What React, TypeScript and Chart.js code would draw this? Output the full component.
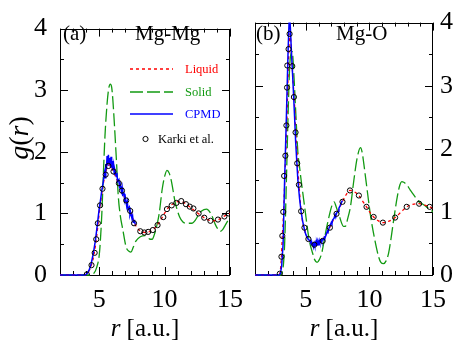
import React, { useEffect, useRef } from 'react';
import { Chart, registerables } from 'chart.js';

Chart.register(...registerables);

const SERIF = "'Liberation Serif', 'Times New Roman', serif";
const RED = '#ff0000';
const GREEN = '#129a12';
const BLUE = '#0000ff';

// ---------- Panel (a): Mg-Mg ----------
const mgMgLiquidR = [2.0, 3.8, 4.0, 4.2, 4.4, 4.6, 4.8, 5.0, 5.2, 5.4, 5.6, 5.8, 6.0, 6.2, 6.4, 6.6, 6.8, 7.0, 7.2, 7.4, 7.6, 7.8, 8.0, 8.3, 8.6, 8.9, 9.2, 9.5, 9.8, 10.1, 10.4, 10.7, 11.0, 11.3, 11.6, 11.9, 12.2, 12.5, 12.8, 13.1, 13.4, 13.7, 14.0, 14.3, 14.6, 15.0];
const mgMgLiquidG = [0, 0, 0.01, 0.06, 0.16, 0.33, 0.62, 1.0, 1.33, 1.58, 1.74, 1.79, 1.72, 1.62, 1.52, 1.42, 1.33, 1.22, 1.12, 1.02, 0.9, 0.8, 0.74, 0.7, 0.69, 0.71, 0.75, 0.83, 0.93, 1.04, 1.12, 1.16, 1.19, 1.19, 1.16, 1.11, 1.06, 1.01, 0.96, 0.92, 0.89, 0.88, 0.89, 0.92, 0.96, 1.0];

const mgMgSolidR = [2.0, 4.3, 4.6, 4.8, 5.0, 5.1, 5.2, 5.3, 5.44, 5.6, 5.72, 5.85, 5.95, 6.04, 6.2, 6.33, 6.45, 6.6, 6.8, 7.06, 7.3, 7.42, 7.6, 7.8, 8.14, 8.5, 8.75, 8.9, 9.05, 9.22, 9.4, 9.58, 9.82, 10.0, 10.18, 10.36, 10.54, 10.79, 11.15, 11.4, 11.63, 12.1, 12.35, 12.6, 12.83, 13.2, 13.55, 13.9, 14.1, 14.28, 14.45, 14.64, 15.0];
const mgMgSolidG = [0, 0, 0.03, 0.12, 0.32, 0.6, 1.0, 1.55, 2.26, 2.78, 3.02, 3.1, 3.05, 2.85, 2.3, 1.8, 1.3, 0.98, 0.74, 0.45, 0.38, 0.37, 0.45, 0.55, 0.62, 0.64, 0.6, 0.58, 0.58, 0.66, 0.8, 0.99, 1.4, 1.6, 1.7, 1.65, 1.5, 1.2, 0.94, 0.86, 0.84, 0.84, 0.89, 0.98, 1.04, 1.07, 0.99, 0.81, 0.74, 0.71, 0.74, 0.81, 0.94];

const mgMgCpmdR = [2.0, 3.9, 4.0, 4.1, 4.2, 4.3, 4.4, 4.5, 4.6, 4.7, 4.8, 4.9, 5.0, 5.1, 5.2, 5.3, 5.4, 5.45, 5.5, 5.55, 5.6, 5.65, 5.7, 5.75, 5.8, 5.85, 5.9, 5.95, 6.0, 6.05, 6.1, 6.15, 6.2, 6.3, 6.35, 6.4, 6.5, 6.55, 6.6, 6.7, 6.75, 6.8, 6.9, 6.95, 7.0, 7.1, 7.15, 7.2, 7.3, 7.35, 7.4, 7.5, 7.55, 7.6, 7.7, 7.75];
const mgMgCpmdG = [0, 0, 0.01, 0.03, 0.07, 0.12, 0.2, 0.3, 0.42, 0.55, 0.72, 0.9, 1.08, 1.22, 1.38, 1.5, 1.66, 1.58, 1.8, 1.72, 1.93, 1.78, 1.95, 1.82, 1.9, 1.76, 1.92, 1.74, 1.85, 1.7, 1.78, 1.64, 1.7, 1.6, 1.66, 1.52, 1.55, 1.44, 1.48, 1.36, 1.42, 1.3, 1.32, 1.22, 1.26, 1.12, 1.18, 1.06, 1.1, 0.98, 1.02, 0.92, 0.96, 0.86, 0.88, 0.82];

const mgMgKarkiR = [4.05, 4.41, 4.65, 4.77, 4.89, 5.06, 5.25, 5.49, 5.7, 6.09, 6.5, 6.74, 7.06, 7.37, 7.66, 8.14, 8.45, 8.74, 9.1, 9.46, 9.9, 10.18, 10.54, 10.9, 11.27, 11.63, 11.92, 12.2, 12.6, 13.03, 13.5, 14.08, 14.57, 14.9];
const mgMgKarkiG = [0.01, 0.16, 0.36, 0.58, 0.84, 1.13, 1.4, 1.63, 1.77, 1.68, 1.49, 1.37, 1.21, 1.04, 0.84, 0.71, 0.69, 0.7, 0.73, 0.81, 0.94, 1.07, 1.13, 1.17, 1.2, 1.15, 1.11, 1.08, 1.0, 0.93, 0.88, 0.9, 0.95, 1.0];

// ---------- Panel (b): Mg-O ----------
const mgOLiquidR = [1.0, 2.8, 2.95, 3.05, 3.15, 3.25, 3.35, 3.45, 3.55, 3.62, 3.7, 3.75, 3.82, 3.9, 4.0, 4.1, 4.2, 4.3, 4.4, 4.5, 4.6, 4.7, 4.85, 5.0, 5.2, 5.5, 5.7, 6.0, 6.3, 6.6, 6.9, 7.2, 7.5, 7.8, 8.1, 8.47, 8.8, 9.17, 9.5, 9.77, 10.05, 10.33, 10.7, 11.06, 11.5, 12.02, 12.5, 12.93, 13.4, 13.91, 14.3, 14.74, 15.0];
const mgOLiquidG = [0, 0, 0.02, 0.2, 0.62, 1.0, 1.55, 2.1, 2.75, 3.3, 3.7, 3.82, 3.7, 3.4, 3.05, 2.75, 2.3, 1.95, 1.6, 1.32, 1.08, 0.9, 0.75, 0.64, 0.57, 0.5, 0.48, 0.5, 0.55, 0.64, 0.76, 0.89, 1.0, 1.13, 1.25, 1.34, 1.32, 1.26, 1.16, 1.08, 0.99, 0.92, 0.86, 0.83, 0.85, 0.91, 1.0, 1.08, 1.12, 1.13, 1.11, 1.08, 1.05];

const mgOSolidR = [1.0, 3.0, 3.15, 3.25, 3.33, 3.47, 3.6, 3.72, 3.82, 3.93, 4.05, 4.2, 4.37, 4.5, 4.63, 4.76, 4.89, 5.02, 5.15, 5.3, 5.54, 5.7, 5.88, 6.05, 6.24, 6.4, 6.58, 6.75, 6.91, 7.05, 7.22, 7.4, 7.61, 7.8, 7.95, 8.1, 8.3, 8.52, 8.78, 9.04, 9.3, 9.45, 9.56, 9.82, 10.08, 10.39, 10.72, 10.9, 11.11, 11.3, 11.5, 11.7, 11.89, 12.2, 12.4, 12.54, 12.7, 12.93, 13.2, 13.44, 13.7, 13.96, 14.2, 14.49, 14.75, 15.0];
const mgOSolidG = [0, 0, 0.05, 0.2, 0.49, 1.5, 2.52, 3.28, 3.5, 3.54, 3.2, 2.6, 1.95, 1.72, 1.5, 1.3, 1.1, 0.9, 0.7, 0.52, 0.34, 0.24, 0.2, 0.24, 0.34, 0.5, 0.7, 0.86, 1.0, 1.1, 1.16, 1.07, 0.95, 0.83, 0.77, 0.77, 0.9, 1.1, 1.51, 1.86, 2.02, 1.92, 1.76, 1.35, 0.95, 0.59, 0.29, 0.2, 0.18, 0.22, 0.34, 0.58, 0.85, 1.25, 1.43, 1.48, 1.47, 1.43, 1.35, 1.28, 1.21, 1.15, 1.12, 1.08, 1.04, 1.0];

const mgOCpmdR = [1.0, 2.9, 3.0, 3.1, 3.21, 3.33, 3.47, 3.6, 3.68, 3.72, 3.78, 3.85, 3.93, 4.0, 4.11, 4.2, 4.3, 4.37, 4.5, 4.63, 4.75, 4.89, 5.0, 5.1, 5.2, 5.3, 5.4, 5.45, 5.5, 5.55, 5.6, 5.65, 5.7, 5.75, 5.8, 5.85, 5.9, 5.95, 6.0, 6.05, 6.1, 6.2, 6.25, 6.3, 6.4, 6.45, 6.5, 6.6, 6.7, 6.75, 6.83, 6.9, 7.0, 7.05, 7.1, 7.22, 7.3, 7.35, 7.45, 7.53, 7.6, 7.7, 7.8, 7.88];
const mgOCpmdG = [0, 0, 0.02, 0.15, 0.49, 1.51, 2.52, 3.54, 4.0, 4.12, 3.92, 3.6, 3.28, 3.0, 2.52, 2.1, 1.75, 1.51, 1.22, 1.0, 0.85, 0.72, 0.64, 0.6, 0.56, 0.55, 0.5, 0.53, 0.47, 0.51, 0.45, 0.5, 0.46, 0.51, 0.47, 0.52, 0.48, 0.53, 0.5, 0.55, 0.51, 0.55, 0.52, 0.57, 0.56, 0.6, 0.59, 0.64, 0.7, 0.68, 0.75, 0.78, 0.83, 0.81, 0.87, 0.9, 0.96, 0.94, 1.0, 1.01, 1.06, 1.1, 1.15, 1.18];

const mgOKarkiR = [2.95, 3.08, 3.15, 3.22, 3.29, 3.39, 3.47, 3.52, 3.54, 3.64, 3.72, 3.93, 4.06, 4.19, 4.32, 4.45, 4.63, 4.89, 5.2, 5.67, 6.32, 6.89, 7.41, 7.88, 8.47, 9.17, 9.77, 10.33, 11.06, 12.02, 12.93, 13.91, 14.74];
const mgOKarkiG = [0.02, 0.29, 0.62, 1.0, 1.57, 1.89, 2.37, 2.97, 3.32, 3.58, 3.82, 3.31, 2.82, 2.26, 1.77, 1.43, 1.01, 0.75, 0.57, 0.48, 0.54, 0.75, 0.97, 1.16, 1.34, 1.26, 1.08, 0.92, 0.83, 0.91, 1.08, 1.13, 1.08];

// ---------- labels ----------
const legendLabels = ['Liquid', 'Solid', 'CPMD', 'Karki et al.'];
const panelTags = ['(a)', '(b)'];
const panelTitles = ['Mg-Mg', 'Mg-O'];
const yTicksMajor = [0, 1, 2, 3, 4];
const xTicksMajor = [5, 10, 15];

const pts = (r: number[], g: number[]) => r.map((x, i) => ({ x, y: g[i] }));

function drawMixed(ctx: CanvasRenderingContext2D, parts: [string, boolean][], size: number, x: number, y: number, center: boolean) {
  let total = 0;
  for (const [t, it] of parts) {
    ctx.font = `${it ? 'italic ' : ''}${size}px ${SERIF}`;
    total += ctx.measureText(t).width;
  }
  let cx = center ? x - total / 2 : x;
  for (const [t, it] of parts) {
    ctx.font = `${it ? 'italic ' : ''}${size}px ${SERIF}`;
    ctx.fillText(t, cx, y);
    cx += ctx.measureText(t).width;
  }
}

const framePlugin = {
  id: 'frame',
  beforeDatasetsDraw(chart: any) {
    const { ctx, chartArea: a, scales } = chart;
    const xs = scales.x;
    const ys = scales.y;
    ctx.save();
    ctx.strokeStyle = '#000';
    ctx.lineWidth = 1;
    ctx.beginPath();
    xs.ticks.forEach((t: any) => {
      const px = Math.round(xs.getPixelForValue(t.value)) + 0.5;
      const len = t.value % 5 === 0 ? 8 : 4;
      ctx.moveTo(px, a.bottom);
      ctx.lineTo(px, a.bottom - len);
      ctx.moveTo(px, a.top);
      ctx.lineTo(px, a.top + len);
    });
    ys.ticks.forEach((t: any) => {
      const py = Math.round(ys.getPixelForValue(t.value)) + 0.5;
      const len = yTicksMajor.includes(t.value) ? 8 : 4;
      ctx.moveTo(a.left, py);
      ctx.lineTo(a.left + len, py);
      ctx.moveTo(a.right, py);
      ctx.lineTo(a.right - len, py);
    });
    ctx.stroke();
    ctx.strokeRect(Math.round(a.left) + 0.5, Math.round(a.top) + 0.5, Math.round(a.right - a.left) - 1, Math.round(a.bottom - a.top));
    ctx.restore();
  },
};

const decorPlugin = {
  id: 'decor',
  afterDraw(chart: any, _args: any, opts: any) {
    const { ctx, chartArea: a } = chart;
    ctx.save();
    ctx.fillStyle = '#000';
    ctx.textBaseline = 'alphabetic';
    ctx.textAlign = 'left';
    ctx.font = `21px ${SERIF}`;
    ctx.fillText(opts.tag, opts.tagX, 40);
    ctx.fillText(opts.title, opts.titleX, 40);
    drawMixed(ctx, [['r', true], [' [a.u.]', false]], 25, (a.left + a.right) / 2, 336, true);
    if (opts.yTitle) {
      ctx.save();
      ctx.translate(28, 138);
      ctx.rotate(-Math.PI / 2);
      drawMixed(ctx, [['g', true], ['(', false], ['r', true], [')', false]], 28, 0, 0, true);
      ctx.restore();
    }
    if (opts.legend) {
      const colors = [RED, GREEN, BLUE, '#000'];
      const dashes = [[3, 3], [13, 4], [], []];
      const ys = [69, 92, 114, 139];
      ctx.font = `12.5px ${SERIF}`;
      ctx.textBaseline = 'middle';
      for (let i = 0; i < 3; i++) {
        ctx.strokeStyle = colors[i];
        ctx.lineWidth = 1.5;
        ctx.setLineDash(dashes[i]);
        ctx.beginPath();
        ctx.moveTo(130, ys[i]);
        ctx.lineTo(173, ys[i]);
        ctx.stroke();
        ctx.fillStyle = colors[i];
        ctx.fillText(legendLabels[i], 185, ys[i] + 1);
      }
      ctx.setLineDash([]);
      ctx.strokeStyle = '#000';
      ctx.lineWidth = 1;
      ctx.beginPath();
      ctx.arc(145.5, ys[3], 2.6, 0, Math.PI * 2);
      ctx.stroke();
      ctx.fillStyle = '#000';
      ctx.fillText(legendLabels[3], 158, ys[3] + 1);
    }
    ctx.restore();
  },
};

function makeConfig(panel: 0 | 1) {
  const liquid = panel === 0 ? pts(mgMgLiquidR, mgMgLiquidG) : pts(mgOLiquidR, mgOLiquidG);
  const solid = panel === 0 ? pts(mgMgSolidR, mgMgSolidG) : pts(mgOSolidR, mgOSolidG);
  const cpmd = panel === 0 ? pts(mgMgCpmdR, mgMgCpmdG) : pts(mgOCpmdR, mgOCpmdG);
  const karki = panel === 0 ? pts(mgMgKarkiR, mgMgKarkiG) : pts(mgOKarkiR, mgOKarkiG);
  const clip = { left: 0, top: 0, right: 0, bottom: 2 };
  return {
    type: 'line',
    data: {
      datasets: [
        { label: legendLabels[3], data: karki, showLine: false, pointRadius: 2.6, pointBorderWidth: 1, pointBorderColor: '#000', pointBackgroundColor: 'rgba(0,0,0,0)', borderColor: '#000' },
        { label: legendLabels[2], data: cpmd, borderColor: BLUE, borderWidth: 1.5, pointRadius: 0, tension: 0, clip },
        { label: legendLabels[0], data: liquid, borderColor: RED, borderWidth: 1.3, borderDash: [3, 3], pointRadius: 0, cubicInterpolationMode: 'monotone', clip },
        { label: legendLabels[1], data: solid, borderColor: GREEN, borderWidth: 1.3, borderDash: [13, 4], pointRadius: 0, cubicInterpolationMode: 'monotone', clip },
      ],
    },
    options: {
      responsive: false,
      animation: false,
      events: [],
      layout: { padding: panel === 0 ? { left: 0, top: 13, right: 13, bottom: 0 } : { left: 8, top: 13, right: 0, bottom: 0 } },
      plugins: {
        legend: { display: false },
        tooltip: { enabled: false },
        decor: panel === 0
          ? { tag: panelTags[0], tagX: 63, title: panelTitles[0], titleX: 135, yTitle: true, legend: true }
          : { tag: panelTags[1], tagX: 11, title: panelTitles[1], titleX: 91, yTitle: false, legend: false },
      },
      scales: {
        x: {
          type: 'linear',
          min: panel === 0 ? 2 : 1,
          max: 15,
          grid: { display: false, drawTicks: false },
          border: { display: false },
          ticks: {
            stepSize: 1,
            autoSkip: false,
            maxRotation: 0,
            padding: 10,
            color: '#000',
            font: { family: SERIF, size: 26 },
            callback: (v: number) => (xTicksMajor.includes(v) ? String(v) : ''),
          },
          afterFit: (s: any) => { s.height = 74; },
        },
        y: {
          position: panel === 0 ? 'left' : 'right',
          min: 0,
          max: 4,
          grid: { display: false, drawTicks: false },
          border: { display: false },
          ticks: {
            stepSize: 0.5,
            autoSkip: false,
            padding: panel === 0 ? 13 : 7,
            color: '#000',
            font: { family: SERIF, size: 26 },
            callback: (v: number) => (yTicksMajor.includes(v) ? String(v) : ''),
          },
          afterFit: (s: any) => { s.width = panel === 0 ? 60 : 30; },
        },
      },
    },
    plugins: [framePlugin, decorPlugin],
  };
}

function Panel({ panel, left, width }: { panel: 0 | 1; left: number; width: number }) {
  const ref = useRef<HTMLCanvasElement>(null);
  useEffect(() => {
    if (!ref.current) return;
    const chart = new Chart(ref.current, makeConfig(panel) as any);
    return () => chart.destroy();
  }, [panel]);
  return <canvas ref={ref} width={width} height={349} style={{ position: 'absolute', left, top: 0, width, height: 349 }} />;
}

export default function App() {
  return (
    <div style={{ position: 'absolute', left: 0, top: 0, width: 463, height: 349, background: '#fff', overflow: 'hidden' }}>
      <Panel panel={0} left={0} width={253} />
      <Panel panel={1} left={245} width={218} />
    </div>
  );
}
